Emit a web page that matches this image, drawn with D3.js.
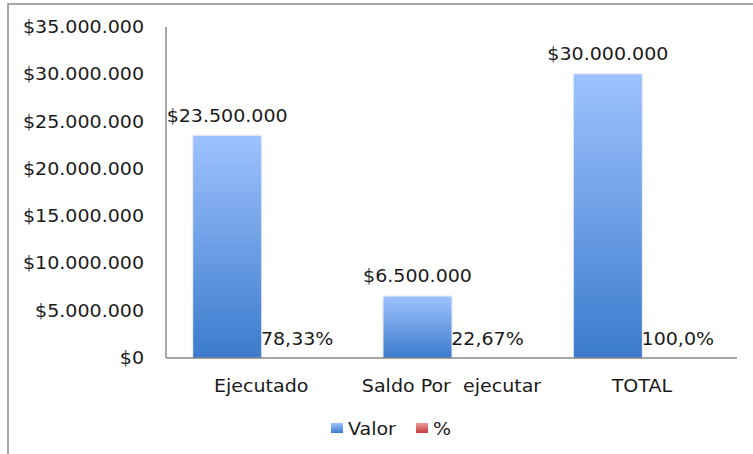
<!DOCTYPE html>
<html><head><meta charset="utf-8">
<script src="https://cdn.jsdelivr.net/npm/d3@7"></script>
<style>body{margin:0;background:#fff}svg{display:block}text{font-family:"DejaVu Sans",sans-serif;fill:#1a1a1a;white-space:pre}</style>
</head><body><svg id="c" width="753" height="454"></svg>
<script>
const categories = ["Ejecutado", "Saldo Por  ejecutar", "TOTAL"];
const valores = [23500000, 6500000, 30000000];
const porcentajes = [0.7833, 0.2267, 1.0];
const pctLabels = ["78,33%", "22,67%", "100,0%"];
const yTicks = [0, 5000000, 10000000, 15000000, 20000000, 25000000, 30000000, 35000000];
const seriesNames = ["Valor", "%"];

const svg = d3.select("#c");
const loc = d3.formatLocale({decimal: ",", thousands: ".", grouping: [3], currency: ["$", ""]});
const money = loc.format("$,.0f");
const SX = 1.12;
const FS = 17;

const defs = svg.append("defs");
const gb = defs.append("linearGradient").attr("id", "gBlue").attr("x1", 0).attr("y1", 0).attr("x2", 0).attr("y2", 1);
gb.append("stop").attr("offset", "0%").attr("stop-color", "#9ec2ff");
gb.append("stop").attr("offset", "100%").attr("stop-color", "#3b7bcc");
const gr = defs.append("linearGradient").attr("id", "gRed").attr("x1", 0).attr("y1", 0).attr("x2", 0).attr("y2", 1);
gr.append("stop").attr("offset", "0%").attr("stop-color", "#f09a9a");
gr.append("stop").attr("offset", "100%").attr("stop-color", "#c43c3c");
const f = defs.append("filter").attr("id", "sh").attr("x", "-20%").attr("y", "-20%").attr("width", "140%").attr("height", "140%");
f.append("feDropShadow").attr("dx", 0).attr("dy", 0).attr("stdDeviation", 1.2).attr("flood-color", "#000").attr("flood-opacity", 0.25);

// outer border
svg.append("rect").attr("x", 8).attr("y", 4).attr("width", 800).attr("height", 500)
  .attr("fill", "none").attr("stroke", "#8a8a8a").attr("stroke-width", 1.5);

const plot = {left: 166, right: 737, top: 27, bottom: 358};
const x = d3.scaleBand().domain(categories).range([plot.left, plot.right]).paddingInner(0).paddingOuter(0);
const xs = d3.scaleBand().domain(seriesNames).range([0, x.bandwidth()]).paddingInner(0).paddingOuter(0.4);
const y = d3.scaleLinear().domain([0, 35000000]).range([plot.bottom, plot.top]);
const yP = d3.scaleLinear().domain([0, 35000000]).range([plot.bottom, plot.top]);

function stext(sel, tx, ty, str, anchor) {
  const g = sel.append("g").attr("transform", `translate(${tx},${ty}) scale(${SX},1)`);
  g.append("text").attr("text-anchor", anchor).attr("dy", "0.35em").attr("font-size", FS)
    .attr("xml:space", "preserve").text(str);
}

// y axis labels
yTicks.forEach(t => stext(svg, 144, y(t), money(t), "end"));

// bars Valor
svg.selectAll("rect.v").data(valores).join("rect").attr("class", "v")
  .attr("x", (d, i) => x(categories[i]) + xs("Valor"))
  .attr("width", xs.bandwidth())
  .attr("y", d => y(d)).attr("height", d => y(0) - y(d))
  .attr("fill", "url(#gBlue)").attr("filter", "url(#sh)");
// bars % (tiny on this axis)
svg.selectAll("rect.p").data(porcentajes).join("rect").attr("class", "p")
  .attr("x", (d, i) => x(categories[i]) + xs("%"))
  .attr("width", xs.bandwidth())
  .attr("y", d => yP(d)).attr("height", d => yP(0) - yP(d))
  .attr("fill", "url(#gRed)");

// axes lines
svg.append("line").attr("x1", plot.left).attr("x2", plot.left).attr("y1", plot.top).attr("y2", plot.bottom)
  .attr("stroke", "#888").attr("stroke-width", 1.5);
svg.append("line").attr("x1", plot.left).attr("x2", plot.right).attr("y1", plot.bottom).attr("y2", plot.bottom)
  .attr("stroke", "#888").attr("stroke-width", 1.5);

// value labels
valores.forEach((v, i) => stext(svg, x(categories[i]) + xs("Valor") + xs.bandwidth() / 2, y(v) - 20, money(v), "middle"));
porcentajes.forEach((v, i) => stext(svg, x(categories[i]) + xs("%") + xs.bandwidth() / 2 + 2, yP(v) - 19, pctLabels[i], "middle"));

// category labels
categories.forEach(c => stext(svg, x(c) + x.bandwidth() / 2, 386, c, "middle"));

// legend
const leg = [{n: "Valor", fill: "url(#gBlue)", x: 331}, {n: "%", fill: "url(#gRed)", x: 416}];
leg.forEach(l => {
  svg.append("rect").attr("x", l.x).attr("y", 423).attr("width", 12).attr("height", 10).attr("fill", l.fill);
  stext(svg, l.x + 17, 429, l.n, "start");
});
</script></body></html>
